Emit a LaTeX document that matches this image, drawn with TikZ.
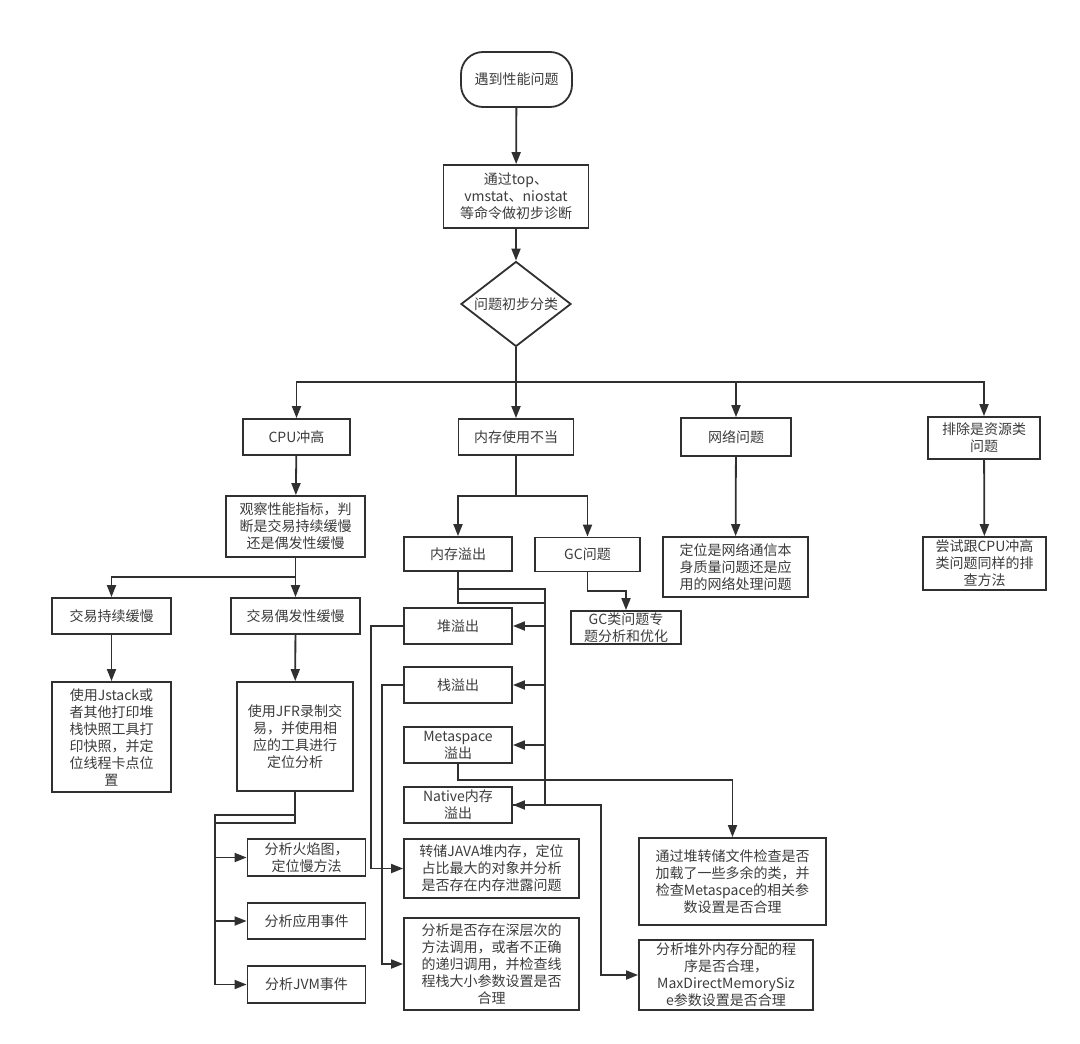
\documentclass[tikz,border=0pt]{standalone}
\usepackage{fontspec}
\newfontfamily\cjk{Noto Sans CJK SC}
\usetikzlibrary{arrows.meta,shapes.geometric}
\definecolor{lc}{HTML}{303030}
\definecolor{tc}{HTML}{3C3C3C}
\begin{document}
\begin{tikzpicture}[x=1pt,y=-1pt,
  box/.style={draw=lc, line width=1.8pt, fill=white, align=center, inner sep=0pt,
    font=\cjk\fontsize{14}{17}\selectfont, text=tc},
  conn/.style={draw=lc, line width=1.8pt},
  arr/.style={conn, -{Triangle[length=12pt,width=9pt]}}]
\fill[white] (0,0) rectangle (1080,1044);
\useasboundingbox (0,0) rectangle (1080,1044);

% top
\node[box, rounded corners=22pt, minimum width=111pt, minimum height=55pt] (start) at (516.5,79.5) {遇到性能问题};
\node[box, minimum width=145pt, minimum height=63pt] (diag) at (516,196.5) {通过top、\\vmstat、niostat\\等命令做初步诊断};
\node[box, shape=diamond, aspect=1.3, minimum width=110pt, minimum height=85pt] (dia) at (516,304) {问题初步分类};

% row 1
\node[box, minimum width=107pt, minimum height=36pt] (cpu) at (296.5,437) {CPU冲高};
\node[box, minimum width=115pt, minimum height=36pt] (mem) at (516,437) {内存使用不当};
\node[box, minimum width=110pt, minimum height=38pt] (net) at (736,437) {网络问题};
\node[box, minimum width=112pt, minimum height=42pt] (excl) at (984,438) {排除是资源类\\问题};

% row 2
\node[box, minimum width=139pt, minimum height=61pt] (obs) at (295.5,526.5) {观察性能指标，判\\断是交易持续缓慢\\还是偶发性缓慢};
\node[box, minimum width=108pt, minimum height=34pt] (oom) at (458,554) {内存溢出};
\node[box, minimum width=105pt, minimum height=34pt] (gc) at (587.5,554.5) {GC问题};
\node[box, minimum width=145pt, minimum height=60pt] (netdet) at (735.5,567) {定位是网络通信本\\身质量问题还是应\\用的网络处理问题};
\node[box, minimum width=123pt, minimum height=53pt] (excldet) at (984.5,563.5) {尝试跟CPU冲高\\类问题同样的排\\查方法};

% row 3
\node[box, minimum width=119pt, minimum height=36pt] (slow1) at (111.5,616) {交易持续缓慢};
\node[box, minimum width=129pt, minimum height=36pt] (slow2) at (295.5,616) {交易偶发性缓慢};
\node[box, minimum width=110pt, minimum height=33pt] (gcbox) at (626,627.5) {GC类问题专\\题分析和优化};
\node[box, minimum width=108pt, minimum height=36pt] (heap) at (458,626) {堆溢出};
\node[box, minimum width=108pt, minimum height=36pt] (stack) at (458,685) {栈溢出};
\node[box, minimum width=108pt, minimum height=36pt] (meta) at (458,745) {Metaspace\\溢出};
\node[box, minimum width=108pt, minimum height=36pt] (native) at (458,805) {Native内存\\溢出};

% row 4
\node[box, minimum width=119pt, minimum height=110pt] (jstack) at (111.5,737) {使用Jstack或\\者其他打印堆\\栈快照工具打\\印快照，并定\\位线程卡点位\\置};
\node[box, minimum width=116pt, minimum height=109pt] (jfr) at (295,736.5) {使用JFR录制交\\易，并使用相\\应的工具进行\\定位分析};
\node[box, minimum width=118pt, minimum height=37pt] (fire) at (306.5,857.5) {分析火焰图，\\定位慢方法};
\node[box, minimum width=118pt, minimum height=36pt] (appev) at (306.5,921) {分析应用事件};
\node[box, minimum width=118pt, minimum height=37pt] (jvm) at (306.5,984.5) {分析JVM事件};
\node[box, minimum width=175pt, minimum height=59pt] (dump) at (491.5,868.5) {转储JAVA堆内存，定位\\占比最大的对象并分析\\是否存在内存泄露问题};
\node[box, minimum width=175pt, minimum height=92pt] (deep) at (491.5,964) {分析是否存在深层次的\\方法调用，或者不正确\\的递归调用，并检查线\\程栈大小参数设置是否\\合理};
\node[box, minimum width=187pt, minimum height=87pt] (metabox) at (732.5,881.5) {通过堆转储文件检查是否\\加载了一些多余的类，并\\检查Metaspace的相关参\\数设置是否合理};
\node[box, minimum width=174pt, minimum height=70pt] (offheap) at (726,975) {分析堆外内存分配的程\\序是否合理，\\MaxDirectMemorySiz\\e参数设置是否合理};

% connectors top
\draw[arr] (start) -- (diag);
\draw[arr] (diag) -- (dia);
\coordinate (bar) at (516,382);
\draw[arr] (dia.south) -- (bar) -| (cpu.north);
\draw[arr] (bar) -- (mem.north);
\draw[arr] (bar) -| (net.north);
\draw[arr] (bar) -| (excl.north);

% CPU branch
\draw[arr] (cpu) -- (obs);
\coordinate (cpusplit) at (295.5,577);
\draw[arr] (obs.south) -- (cpusplit) -| (slow1.north);
\draw[arr] (cpusplit) -- (slow2.north);
\draw[arr] (slow1) -- (jstack);
\draw[arr] (slow2) -- (jfr);
\draw[arr] (jfr.south) |- (215,815) |- (fire.west);
\draw[arr] (jfr.south) |- (215,823) |- (appev.west);
\draw[arr] (jfr.south) |- (215,823) |- (jvm.west);

% memory branch
\coordinate (memsplit) at (516,496);
\draw[arr] (mem.south) -- (memsplit) -| (oom.north);
\draw[arr] (memsplit) -| (gc.north);
\draw[arr] (gc.south) |- (626,591) -- (gcbox.north);
\draw[arr] (oom.south) |- (545,589) |- (heap.east);
\draw[arr] (oom.south) |- (545,603) |- (stack.east);
\draw[arr] (oom.south) |- (545,603) |- (meta.east);
\draw[arr] (oom.south) |- (545,603) |- (native.east);
\draw[arr] (heap.west) -- ++(-32,0) |- (dump.west);
\draw[arr] (stack.west) -- ++(-21,0) |- (deep.west);
\draw[arr] (meta.south) |- (732.5,780) -- (metabox.north);
\draw[arr] (native.east) -- (601,805) |- (offheap.west);

% network / exclusion
\draw[arr] (net) -- (netdet);
\draw[arr] (excl) -- (excldet);
\end{tikzpicture}
\end{document}
